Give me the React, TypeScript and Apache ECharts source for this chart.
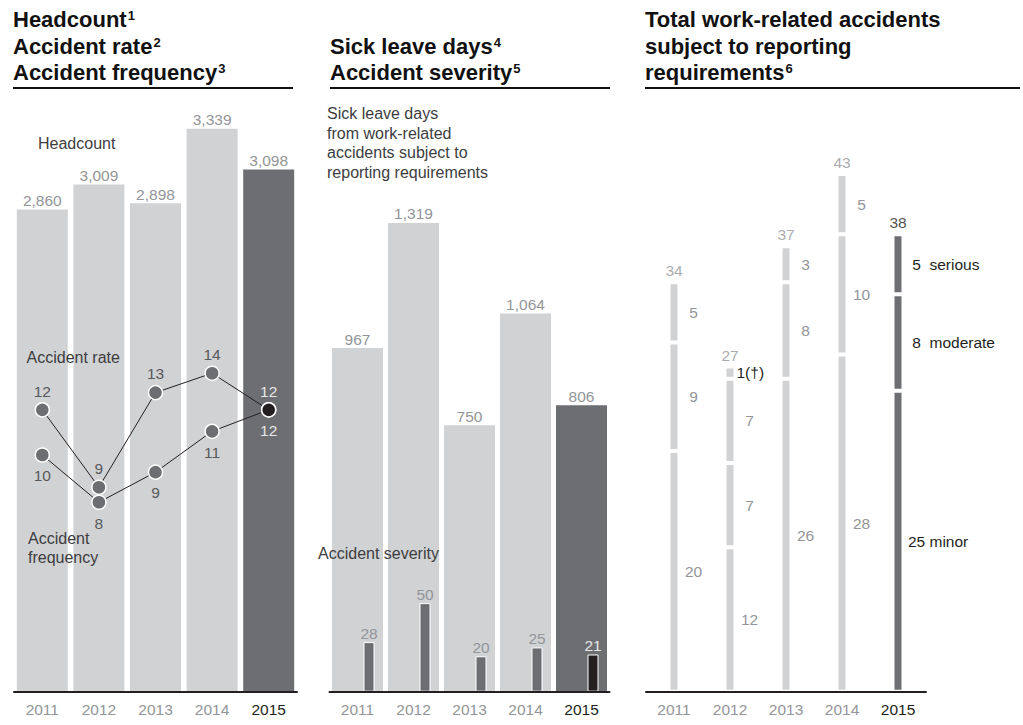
import React, { useEffect, useRef } from 'react';
import * as echarts from 'echarts';

// ---------- data ----------
const years = ['2011', '2012', '2013', '2014', '2015'];
const headcount = [2860, 3009, 2898, 3339, 3098];
// positions (labels show rounded values)
const accidentRate = [12.3, 8.7, 13.1, 14.0, 12.3];
const accidentFrequency = [10.2, 8.0, 9.4, 11.3, 12.3];
const sickLeaveDays = [967, 1319, 750, 1064, 806];
const accidentSeverity = [28, 50, 20, 25, 21];
const minorAccidents = [20, 12, 26, 28, 25];
const moderateAccidents = [9, 7, 8, 10, 8];
const seriousAccidents = [5, 7, 3, 5, 5];
const fatalAccidents = [0, 1, 0, 0, 0];
const totalAccidents = [34, 27, 37, 43, 38];
const severityWords2015 = { minor: 'minor', moderate: 'moderate', serious: 'serious' };

// ---------- style ----------
const FONT = '"Liberation Sans", Arial, sans-serif';
const LIGHT = '#d1d2d4';
const DARK = '#6d6e71';
const BLACK = '#231f20';
const NUM = '#939598';
const NOTE = '#3d3d3f';
const PT_LABEL = '#58595b';
const ON_DARK = '#e6e7e8';

const measure = (t: string, font: string) => {
  const c = document.createElement('canvas').getContext('2d') as CanvasRenderingContext2D;
  c.font = font;
  return c.measureText(t).width;
};

const txt = (text: string, x: number, y: number, o: any = {}) => ({
  type: 'text',
  z: 50,
  silent: true,
  style: {
    text,
    x,
    y,
    fill: o.fill ?? NOTE,
    fontSize: o.size ?? 16,
    fontWeight: o.weight ?? 'normal',
    fontFamily: FONT,
    textAlign: o.align ?? 'left',
    textVerticalAlign: 'middle',
    verticalAlign: 'middle',
  },
});

const title = (main: string, sup: string | null, x: number, y: number) => {
  const els: any[] = [txt(main, x, y, { fill: '#111', size: 22, weight: 'bold' })];
  if (sup) {
    const w = measure(main, `bold 22px ${FONT}`);
    els.push(txt(sup, x + w + 1, y - 4, { fill: '#111', size: 13, weight: 'bold' }));
  }
  return els;
};

const hline = (x1: number, x2: number, y: number) => ({
  type: 'line',
  z: 50,
  silent: true,
  shape: { x1, y1: y, x2, y2: y },
  style: { stroke: '#111', lineWidth: 2 },
});

const GRID_TOP = 101.7;
const GRID_H = 590;

const xCat = (gridIndex: number, show = true) => ({
  type: 'category',
  gridIndex,
  data: years.map((y, i) => ({ value: y, textStyle: { color: i === 4 ? BLACK : NUM } })),
  show,
  z: 10,
  axisLine: { show, onZero: false, lineStyle: { color: BLACK, width: 2 } },
  axisTick: { show: false },
  axisLabel: { show, fontSize: 15.5, fontFamily: FONT, margin: 10 },
  splitLine: { show: false },
});

const yVal = (gridIndex: number, min: number, max: number) => ({
  type: 'value',
  gridIndex,
  min,
  max,
  show: false,
  splitLine: { show: false },
});

const fmt = (v: number) => v.toLocaleString('en-US');

export default function App() {
  const ref = useRef<HTMLDivElement>(null);

  useEffect(() => {
    if (!ref.current) return;
    const chart = echarts.init(ref.current, undefined, { renderer: 'svg' });

    const segLabel = (value: number, i: number, word: string) => {
      if (i === 4) {
        return {
          show: true,
          position: [15, '50%'],
          align: 'left',
          verticalAlign: 'middle',
          formatter: `{n|${value}}{w|${word}}`,
          rich: {
            n: { width: 18, align: 'center', color: BLACK, fontSize: 15.5, fontFamily: FONT },
            w: { color: BLACK, fontSize: 15.5, fontFamily: FONT, padding: [0, 0, 0, 4] },
          },
        };
      }
      return {
        show: true,
        position: [25, '50%'],
        align: 'center',
        verticalAlign: 'middle',
        formatter: String(value),
        color: NUM,
        fontSize: 15.5,
        fontFamily: FONT,
      };
    };

    const stackSeries = (vals: number[], word: string) => ({
      type: 'bar',
      xAxisIndex: 3,
      yAxisIndex: 4,
      stack: 'acc',
      barWidth: 11,
      z: 3,
      data: vals.map((v, i) =>
        v === 0
          ? '-'
          : {
              value: v,
              itemStyle: { color: i === 4 ? DARK : LIGHT },
              label: segLabel(v, i, word),
            }
      ),
      itemStyle: { borderColor: '#fff', borderWidth: 2 },
    });

    const option: any = {
      animation: false,
      grid: [
        { left: 14, top: GRID_TOP, width: 283, height: GRID_H },
        { left: 329.5, top: GRID_TOP, width: 280, height: GRID_H },
        { left: 341, top: GRID_TOP, width: 280, height: GRID_H },
        { left: 646, top: GRID_TOP, width: 280, height: GRID_H },
      ],
      xAxis: [xCat(0), xCat(1), xCat(2, false), xCat(3)],
      yAxis: [
        yVal(0, 0, 3500),
        yVal(0, -0.81, 26.63),
        yVal(1, 0, 1660),
        yVal(2, 0, 333),
        yVal(3, 0, 49),
      ],
      series: [
        // Panel 1: headcount
        {
          type: 'bar',
          xAxisIndex: 0,
          yAxisIndex: 0,
          barWidth: 51,
          z: 2,
          data: headcount.map((v, i) => ({ value: v, itemStyle: { color: i === 4 ? DARK : LIGHT } })),
          label: {
            show: true,
            position: 'top',
            distance: 1,
            color: NUM,
            fontSize: 15.5,
            fontFamily: FONT,
            formatter: (p: any) => fmt(p.value),
          },
        },
        // Accident rate
        {
          type: 'line',
          xAxisIndex: 0,
          yAxisIndex: 1,
          z: 6,
          symbol: 'circle',
          symbolSize: 14,
          data: accidentRate.map((v, i) => ({
            value: v,
            itemStyle: { color: i === 4 ? BLACK : DARK },
            label: { color: i === 4 ? ON_DARK : PT_LABEL },
          })),
          itemStyle: { borderColor: '#fff', borderWidth: 1.5 },
          lineStyle: { color: BLACK, width: 1 },
          label: {
            show: true,
            position: 'top',
            distance: 3,
            fontSize: 15.5,
            fontFamily: FONT,
            formatter: (p: any) => String(Math.round(p.value)),
          },
        },
        // Accident frequency
        {
          type: 'line',
          xAxisIndex: 0,
          yAxisIndex: 1,
          z: 5,
          symbol: 'circle',
          symbolSize: 14,
          data: accidentFrequency.map((v, i) => ({
            value: v,
            itemStyle: { color: i === 4 ? BLACK : DARK },
            label: { color: i === 4 ? ON_DARK : PT_LABEL },
          })),
          itemStyle: { borderColor: '#fff', borderWidth: 1.5 },
          lineStyle: { color: BLACK, width: 1 },
          label: {
            show: true,
            position: 'bottom',
            distance: 5,
            fontSize: 15.5,
            fontFamily: FONT,
            formatter: (p: any) => String(Math.round(p.value)),
          },
        },
        // Panel 2: sick leave days
        {
          type: 'bar',
          xAxisIndex: 1,
          yAxisIndex: 2,
          barWidth: 51,
          z: 2,
          data: sickLeaveDays.map((v, i) => ({ value: v, itemStyle: { color: i === 4 ? DARK : LIGHT } })),
          label: {
            show: true,
            position: 'top',
            distance: 1,
            color: NUM,
            fontSize: 15.5,
            fontFamily: FONT,
            formatter: (p: any) => fmt(p.value),
          },
        },
        // Accident severity
        {
          type: 'bar',
          xAxisIndex: 2,
          yAxisIndex: 3,
          barWidth: 11,
          z: 4,
          data: accidentSeverity.map((v, i) => ({
            value: v,
            itemStyle: { color: i === 4 ? BLACK : DARK },
            label: { color: i === 4 ? ON_DARK : NUM },
          })),
          itemStyle: { borderColor: '#fff', borderWidth: 1 },
          label: {
            show: true,
            position: 'top',
            distance: 1,
            fontSize: 15.5,
            fontFamily: FONT,
          },
        },
        // Panel 3: stacked accidents
        stackSeries(minorAccidents, severityWords2015.minor),
        stackSeries(moderateAccidents, severityWords2015.moderate),
        stackSeries(seriousAccidents, severityWords2015.serious),
        {
          type: 'bar',
          xAxisIndex: 3,
          yAxisIndex: 4,
          stack: 'acc',
          barWidth: 11,
          z: 3,
          data: fatalAccidents.map((v, i) =>
            v === 0
              ? '-'
              : {
                  value: v,
                  itemStyle: { color: i === 4 ? DARK : LIGHT },
                  label: {
                    show: true,
                    position: 'right',
                    distance: 1,
                    formatter: `${v}(†)`,
                    color: BLACK,
                    fontSize: 15.5,
                    fontFamily: FONT,
                  },
                }
          ),
          itemStyle: { borderColor: '#fff', borderWidth: 2 },
        },
        // totals above stacks
        {
          type: 'scatter',
          xAxisIndex: 3,
          yAxisIndex: 4,
          z: 6,
          symbol: 'circle',
          symbolSize: 1,
          itemStyle: { color: 'rgba(0,0,0,0)' },
          data: totalAccidents.map((v, i) => ({
            value: v,
            label: { color: i === 4 ? BLACK : NUM },
          })),
          label: {
            show: true,
            position: 'top',
            distance: 3,
            fontSize: 15.5,
            fontFamily: FONT,
          },
        },
      ],
      graphic: [
        // titles
        ...title('Headcount', '1', 13, 19.5),
        ...title('Accident rate', '2', 13, 46),
        ...title('Accident frequency', '3', 13, 72.5),
        hline(13, 293, 88),
        ...title('Sick leave days', '4', 330, 46),
        ...title('Accident severity', '5', 330, 72.5),
        hline(330, 610, 88),
        ...title('Total work-related accidents', null, 645, 19.5),
        ...title('subject to reporting', null, 645, 46),
        ...title('requirements', '6', 645, 72.5),
        hline(645, 1020, 88),
        // notes panel 1
        txt('Headcount', 38, 143.5),
        txt('Accident rate', 26.5, 357.5),
        txt('Accident', 28, 538),
        txt('frequency', 28, 557),
        // notes panel 2
        txt('Sick leave days', 327, 113.5),
        txt('from work-related', 327, 133),
        txt('accidents subject to', 327, 152.5),
        txt('reporting requirements', 327, 172),
        txt('Accident severity', 318, 553),
      ],
    };

    chart.setOption(option);
    return () => chart.dispose();
  }, []);

  return (
    <div
      ref={ref}
      style={{ position: 'absolute', left: 0, top: 0, width: 1023, height: 725, background: '#fff' }}
    />
  );
}
